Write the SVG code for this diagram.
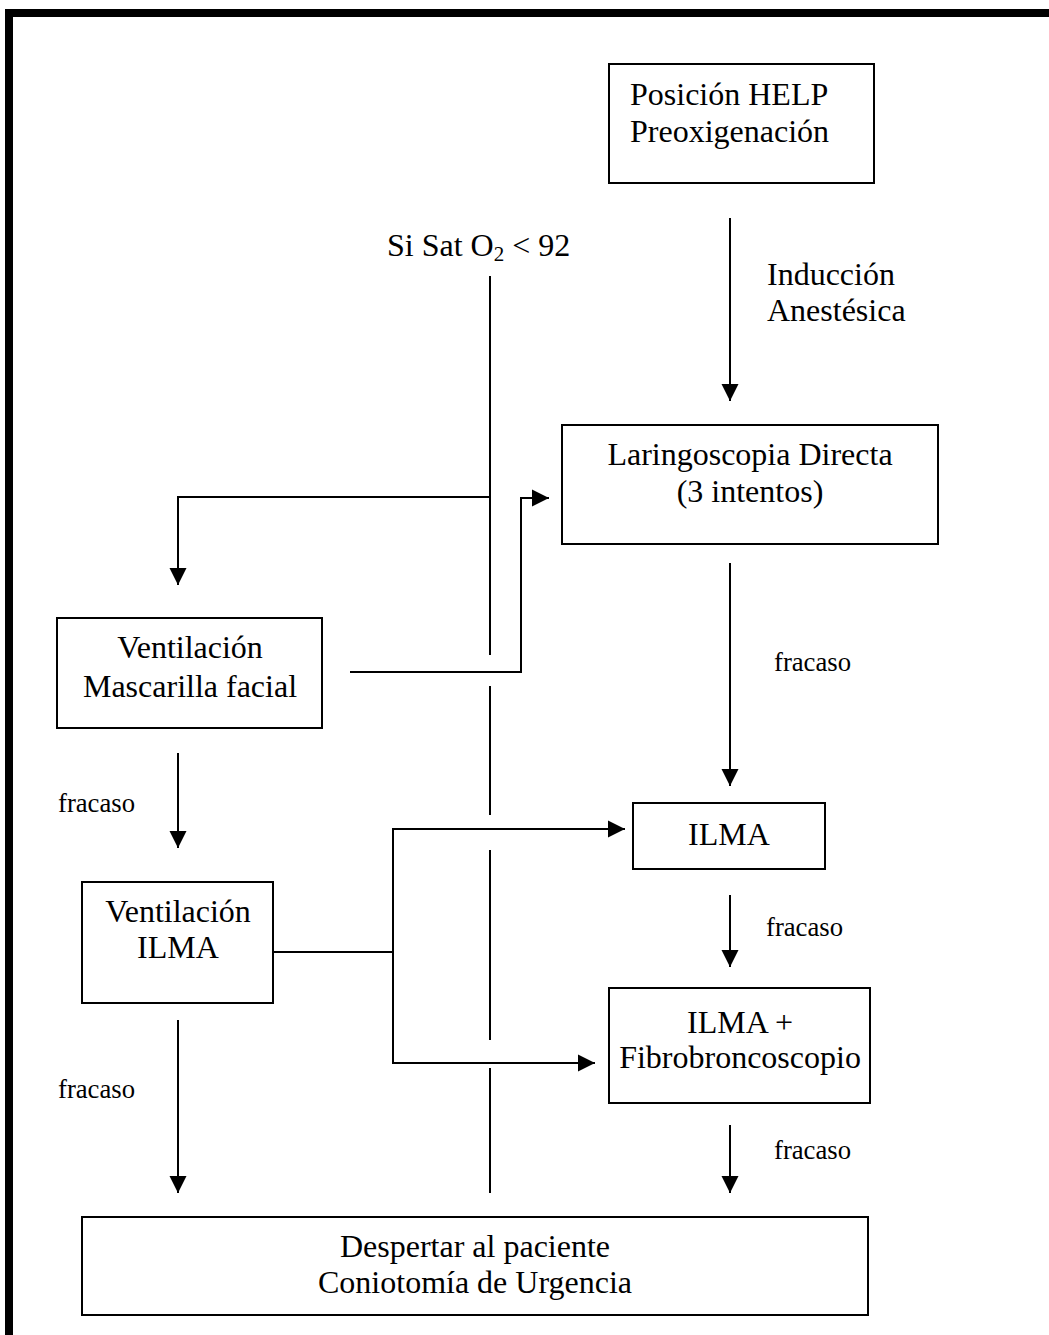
<svg xmlns="http://www.w3.org/2000/svg" width="1049" height="1335" viewBox="0 0 1049 1335">
<defs>
<style>
.box{fill:#fff;stroke:#000;stroke-width:2}
.t{font-family:"Liberation Serif","Times New Roman",serif;font-size:32px;fill:#000}
.c{text-anchor:middle}
.s{font-family:"Liberation Serif","Times New Roman",serif;font-size:26.7px;fill:#000}
.ln{fill:none;stroke:#000;stroke-width:2}
</style>
<marker id="ah" markerUnits="userSpaceOnUse" markerWidth="18" markerHeight="18" refX="17" refY="8.5" orient="auto" overflow="visible">
<path d="M0,0 L17,8.5 L0,17 z" fill="#000"/>
</marker>
</defs>
<rect width="1049" height="1335" fill="#fff"/>
<g id="frame">
<line x1="5" y1="13" x2="1049" y2="13" stroke="#000" stroke-width="8"/>
<line x1="9" y1="9" x2="9" y2="1335" stroke="#000" stroke-width="8"/>
</g>
<g id="connectors">
<line class="ln" x1="730" y1="218" x2="730" y2="401" marker-end="url(#ah)"/>
<line class="ln" x1="490" y1="276" x2="490" y2="655"/>
<line class="ln" x1="490" y1="686" x2="490" y2="815"/>
<line class="ln" x1="490" y1="850" x2="490" y2="1040"/>
<line class="ln" x1="490" y1="1068" x2="490" y2="1193"/>
<polyline class="ln" points="490,497 178,497 178,585" marker-end="url(#ah)"/>
<polyline class="ln" points="350,672 521,672 521,498 549,498" marker-end="url(#ah)"/>
<line class="ln" x1="178" y1="753" x2="178" y2="848" marker-end="url(#ah)"/>
<line class="ln" x1="178" y1="1020" x2="178" y2="1193" marker-end="url(#ah)"/>
<line class="ln" x1="273" y1="952" x2="393" y2="952"/>
<polyline class="ln" points="393,952 393,829 625,829" marker-end="url(#ah)"/>
<polyline class="ln" points="393,952 393,1063 595,1063" marker-end="url(#ah)"/>
<line class="ln" x1="730" y1="563" x2="730" y2="786" marker-end="url(#ah)"/>
<line class="ln" x1="730" y1="895" x2="730" y2="967" marker-end="url(#ah)"/>
<line class="ln" x1="730" y1="1125" x2="730" y2="1193" marker-end="url(#ah)"/>
</g>
<g id="labels">
<text class="t" x="767" y="285">Inducción</text>
<text class="t" x="767" y="321">Anestésica</text>
<text class="t" x="387" y="256">Si Sat O<tspan font-size="21" dy="5">2</tspan><tspan dy="-5"> &lt; 92</tspan></text>
<text class="s" x="774" y="671">fracaso</text>
<text class="s" x="766" y="936">fracaso</text>
<text class="s" x="774" y="1159">fracaso</text>
<text class="s" x="58" y="812">fracaso</text>
<text class="s" x="58" y="1098">fracaso</text>
</g>
<g id="n-help">
<rect class="box" x="609" y="64" width="265" height="119"/>
<text class="t" x="630" y="105">Posición HELP</text>
<text class="t" x="630" y="142">Preoxigenación</text>
</g>
<g id="n-laringo">
<rect class="box" x="562" y="425" width="376" height="119"/>
<text class="t c" x="750" y="465">Laringoscopia Directa</text>
<text class="t c" x="750" y="502">(3 intentos)</text>
</g>
<g id="n-mascarilla">
<rect class="box" x="57" y="618" width="265" height="110"/>
<text class="t c" x="190" y="658">Ventilación</text>
<text class="t c" x="190" y="697">Mascarilla facial</text>
</g>
<g id="n-vilma">
<rect class="box" x="82" y="882" width="191" height="121"/>
<text class="t c" x="178" y="922">Ventilación</text>
<text class="t c" x="178" y="958">ILMA</text>
</g>
<g id="n-ilma">
<rect class="box" x="633" y="803" width="192" height="66"/>
<text class="t c" x="729" y="845">ILMA</text>
</g>
<g id="n-fibro">
<rect class="box" x="609" y="988" width="261" height="115"/>
<text class="t c" x="740" y="1033">ILMA +</text>
<text class="t c" x="740" y="1068">Fibrobroncoscopio</text>
</g>
<g id="n-despertar">
<rect class="box" x="82" y="1217" width="786" height="98"/>
<text class="t c" x="475" y="1257">Despertar al paciente</text>
<text class="t c" x="475" y="1293">Coniotomía de Urgencia</text>
</g>
</svg>
